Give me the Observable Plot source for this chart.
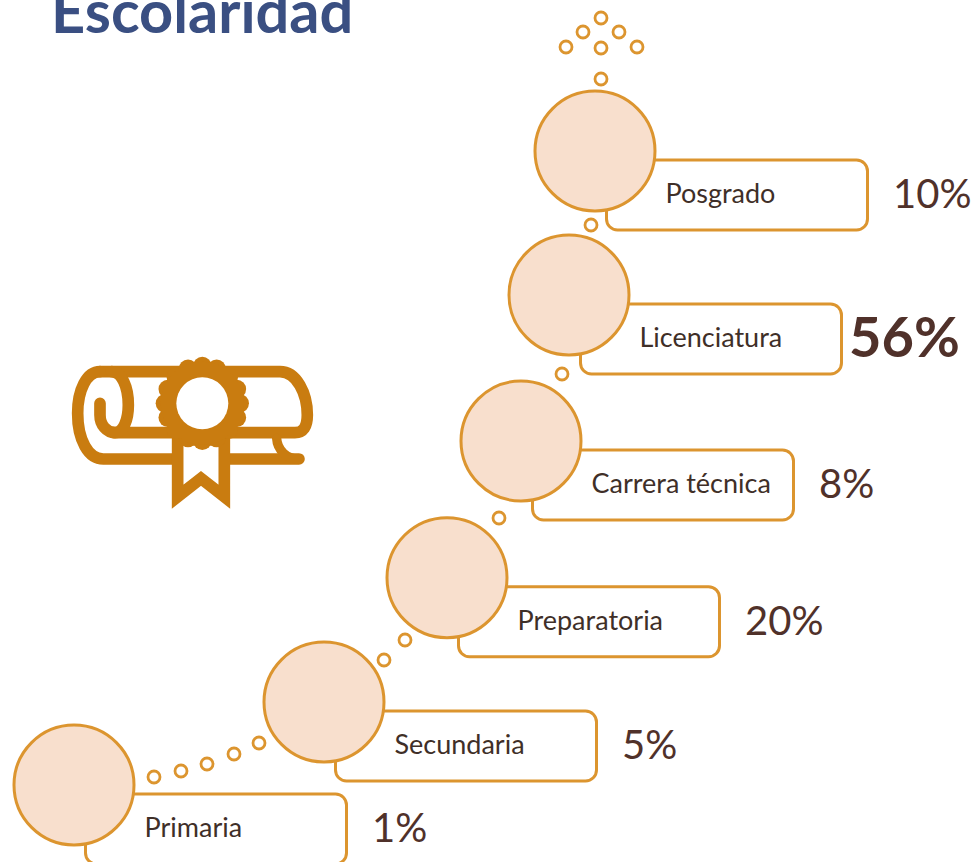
<!DOCTYPE html>
<html><head><meta charset="utf-8">
<style>html,body{margin:0;padding:0;background:#fff}svg{display:block}</style>
<script src="https://cdn.jsdelivr.net/npm/d3@7"></script>
<script src="https://cdn.jsdelivr.net/npm/@observablehq/plot@0.6"></script>
</head><body><div id="chart"></div>
<script>
const titleText = "Escolaridad";
const categories = ["Primaria","Secundaria","Preparatoria","Carrera técnica","Licenciatura","Posgrado"];
const shares = [1,5,20,8,56,10];
const stepX = [73.5,323.5,446.5,520.5,568.5,594.5];
const stepY = [784.5,701.5,577.2,440.5,294.5,150.5];
const trailX = [153.5,180.5,206.5,233.5,258.5,383.5,404.5,498.5,561.5,590.5,600.5,565.5,600.5,636.5,582.5,618.5,600.5];
const trailY = [776.5,770.5,763.5,753.5,742.5,659.5,639.5,517.5,373.5,224.5,78.5,46.5,47.5,46.5,31.5,31.5,17.5];

const steps = categories.map((name,i)=>({name,share:shares[i],x:stepX[i],y:stepY[i]}));
const trail = trailX.map((x,i)=>({x,y:trailY[i]}));
const maxShare = d3.max(shares);
const orange = "#dc952f", font = "Lato, 'Open Sans', sans-serif";

function diploma(){
  const g = d3.create("svg:g").attr("transform","translate(50,340) scale(0.3333)");
  const ink = "#c97c10";
  const stroke = (d,w=35)=>g.append("path").attr("d",d).attr("fill","none").attr("stroke",ink).attr("stroke-width",w).attr("stroke-linecap","round");
  stroke("M150 95H690C740 95 772 160 772 225C772 260 760 278 735 278H190");
  stroke("M150 95C110 95 83 150 83 220C83 300 115 357 160 357H747");
  stroke("M150 190V225C150 255 170 278 195 278C220 278 235 240 235 195C235 140 215 95 185 95");
  stroke("M680 295C682 330 710 357 747 357",28);
  g.append("path").attr("d","M383 300V470L453 415L523 470V300Z").attr("fill","#fff").attr("stroke",ink).attr("stroke-width",35);
  for(let i=0;i<16;i++){
    const a=i*Math.PI/8;
    g.append("circle").attr("cx",457+112*Math.cos(a)).attr("cy",190+112*Math.sin(a)).attr("r",28).attr("fill",ink);
  }
  g.append("circle").attr("cx",457).attr("cy",190).attr("r",125).attr("fill",ink);
  g.append("circle").attr("cx",457).attr("cy",190).attr("r",78).attr("fill","#fff");
  return g.node();
}

const regular = steps.filter(d=>d.share!==maxShare), highlighted = steps.filter(d=>d.share===maxShare);

const chart = Plot.plot({
  width:978,height:862,margin:0,
  x:{domain:[0,978],range:[0,978],axis:null},
  y:{domain:[0,862],range:[0,862],axis:null},
  style:{background:"#fff",fontFamily:font},
  marks:[
    Plot.text([titleText],{x:()=>50.5,y:()=>13.5,text:d=>d,textAnchor:"start",fontSize:59.5,fontWeight:700,fill:"#3a4f82"}),
    diploma,
    Plot.rect(steps,{x1:d=>d.x+12,x2:d=>d.x+273,y1:d=>d.y+9.5,y2:d=>d.y+79.5,rx:11,fill:"#fff",stroke:orange,strokeWidth:3}),
    Plot.dot(steps,{x:"x",y:"y",r:60,fill:"#f8dfcd",stroke:orange,strokeWidth:3}),
    Plot.dot(trail,{x:"x",y:"y",r:6,fill:"#fff",stroke:orange,strokeWidth:2.8}),
    Plot.text(steps,{x:d=>d.x+70.5,y:d=>d.y+43.5,text:"name",textAnchor:"start",fontSize:27,fill:"#3f2f28"}),
    Plot.text(regular,{x:d=>d.x+298,y:d=>d.y+44,text:d=>d.share+"%",textAnchor:"start",fontSize:40,fill:"#50312a"}),
    Plot.text(highlighted,{x:d=>d.x+280,y:d=>d.y+44,text:d=>d.share+"%",textAnchor:"start",fontSize:56,fontWeight:700,fill:"#50312a"})
  ]
});
document.getElementById("chart").append(chart);
</script></body></html>
